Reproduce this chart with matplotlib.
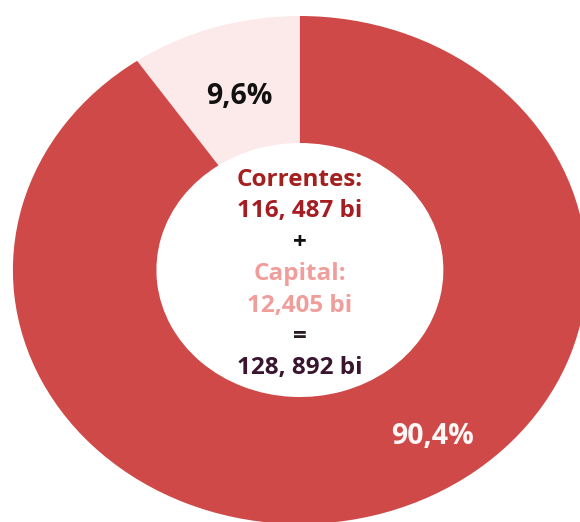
import numpy as np
import matplotlib
matplotlib.use('Agg')
import matplotlib.pyplot as plt

# ── Data ──────────────────────────────────────────────
segments     = ['Capital', 'Correntes']
shares       = [9.6, 90.4]                  # % of total expenditure
pct_labels   = ['9,6%', '90,4%']
center_lines = ['Correntes:', '116, 487 bi', '+', 'Capital:', '12,405 bi', '=', '128, 892 bi']

# ── Style ─────────────────────────────────────────────
wedge_colors = ['#FCEAEA', '#CF4949']
pct_colors   = ['#111111', '#FFF6F6']
line_colors  = ['#A3201F', '#A51D22', '#111111', '#F09E9C', '#F09E9C', '#2A1A24', '#3A1530']
FONT = ['Open Sans', 'DejaVu Sans']

fig = plt.figure(figsize=(5.8, 5.22), dpi=100)
ax = fig.add_axes([0, 0, 1, 1])

wedges, _ = ax.pie(shares, colors=wedge_colors, startangle=90, counterclock=True,
                   radius=1.0, wedgeprops=dict(width=0.5, linewidth=0))

# the donut is drawn slightly wider than tall
ax.set_aspect('auto')
ax.set_xlim(-1.045, 0.976)
ax.set_ylim(-0.992, 1.063)
ax.axis('off')

# percentage labels
pct_pos = [(-0.21, 0.685), (0.463, -0.654)]
for (x, y), lab, col in zip(pct_pos, pct_labels, pct_colors):
    ax.text(x, y, lab, ha='center', va='center', fontsize=20.5,
            fontweight='bold', color=col, family=FONT)

# summary text inside the hole
top, step = 0.354, 0.1235
for i, (txt, col) in enumerate(zip(center_lines, line_colors)):
    ax.text(0.0, top - i * step, txt, ha='center', va='center', fontsize=17.5,
            fontweight='bold', color=col, family=FONT)

plt.savefig('out.png', dpi=100)
